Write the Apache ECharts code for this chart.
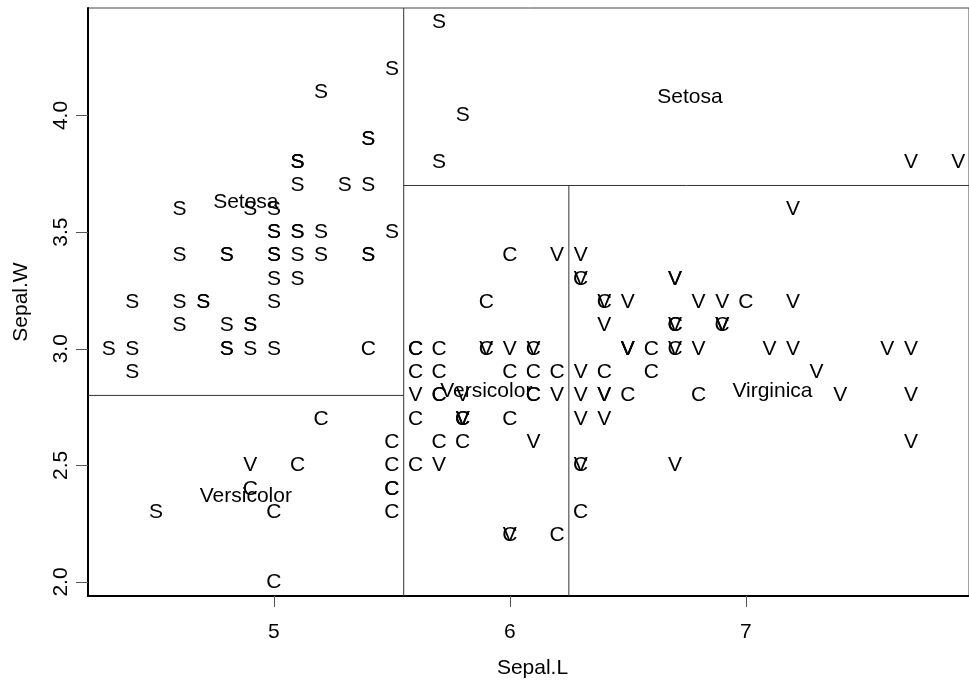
<!DOCTYPE html>
<html><head><meta charset="utf-8">
<script src="https://cdn.jsdelivr.net/npm/echarts@6/dist/echarts.min.js"></script>
<style>html,body{margin:0;padding:0;background:#fff;overflow:hidden}#c{width:969px;height:683px}</style>
</head><body><div id="c"></div>
<script>
// Sepal.Length, Sepal.Width by species (iris)
const setosa = [[5.1,3.5],[4.9,3.0],[4.7,3.2],[4.6,3.1],[5.0,3.6],[5.4,3.9],[4.6,3.4],[5.0,3.4],[4.4,2.9],[4.9,3.1],
[5.4,3.7],[4.8,3.4],[4.8,3.0],[4.3,3.0],[5.8,4.0],[5.7,4.4],[5.4,3.9],[5.1,3.5],[5.7,3.8],[5.1,3.8],
[5.4,3.4],[5.1,3.7],[4.6,3.6],[5.1,3.3],[4.8,3.4],[5.0,3.0],[5.0,3.4],[5.2,3.5],[5.2,3.4],[4.7,3.2],
[4.8,3.1],[5.4,3.4],[5.2,4.1],[5.5,4.2],[4.9,3.1],[5.0,3.2],[5.5,3.5],[4.9,3.6],[4.4,3.0],[5.1,3.4],
[5.0,3.5],[4.5,2.3],[4.4,3.2],[5.0,3.5],[5.1,3.8],[4.8,3.0],[5.1,3.8],[4.6,3.2],[5.3,3.7],[5.0,3.3]];
const versicolor = [[7.0,3.2],[6.4,3.2],[6.9,3.1],[5.5,2.3],[6.5,2.8],[5.7,2.8],[6.3,3.3],[4.9,2.4],[6.6,2.9],[5.2,2.7],
[5.0,2.0],[5.9,3.0],[6.0,2.2],[6.1,2.9],[5.6,2.9],[6.7,3.1],[5.6,3.0],[5.8,2.7],[6.2,2.2],[5.6,2.5],
[5.9,3.2],[6.1,2.8],[6.3,2.5],[6.1,2.8],[6.4,2.9],[6.6,3.0],[6.8,2.8],[6.7,3.0],[6.0,2.9],[5.7,2.6],
[5.5,2.4],[5.5,2.4],[5.8,2.7],[6.0,2.7],[5.4,3.0],[6.0,3.4],[6.7,3.1],[6.3,2.3],[5.6,3.0],[5.5,2.5],
[5.5,2.6],[6.1,3.0],[5.8,2.6],[5.0,2.3],[5.6,2.7],[5.7,3.0],[5.7,2.9],[6.2,2.9],[5.1,2.5],[5.7,2.8]];
const virginica = [[6.3,3.3],[5.8,2.7],[7.1,3.0],[6.3,2.9],[6.5,3.0],[7.6,3.0],[4.9,2.5],[7.3,2.9],[6.7,2.5],[7.2,3.6],
[6.5,3.2],[6.4,2.7],[6.8,3.0],[5.7,2.5],[5.8,2.8],[6.4,3.2],[6.5,3.0],[7.7,3.8],[7.7,2.6],[6.0,2.2],
[6.9,3.2],[5.6,2.8],[7.7,2.8],[6.3,2.7],[6.7,3.3],[7.2,3.2],[6.2,2.8],[6.1,3.0],[6.4,2.8],[7.2,3.0],
[7.4,2.8],[7.9,3.8],[6.4,2.8],[6.3,2.8],[6.1,2.6],[7.7,3.0],[6.3,3.4],[6.4,3.1],[6.0,3.0],[6.9,3.1],
[6.7,3.1],[6.9,3.1],[5.8,2.7],[6.8,3.2],[6.7,3.3],[6.7,3.0],[6.3,2.5],[6.5,3.0],[6.2,3.4],[5.9,3.0]];
const speciesLetters = ['S','C','V'];

// tree splits
const splitL1 = 5.55;      // Sepal.L split at root
const splitWLeft = 2.8;    // Sepal.W split, left branch
const splitWRight = 3.7;   // Sepal.W split, right branch
const splitL2 = 6.25;      // Sepal.L split, lower right

// plot ranges (region bounds) and visible axis window, ticks
const xMin = 4.212, xRegionMax = 7.976, xAxisMax = 7.946;
const yMin = 1.94, yMax = 4.461;
const xTicks = [5, 6, 7];
const yTicks = [2.0, 2.5, 3.0, 3.5, 4.0];

// region labels (centres of the partition rectangles)
const regionNames = ['Setosa','Versicolor','Setosa','Versicolor','Virginica'];
const regionX = [(xMin+splitL1)/2, (xMin+splitL1)/2, (splitL1+xRegionMax)/2, (splitL1+splitL2)/2, (splitL2+xRegionMax)/2];
const regionY = [(splitWLeft+yMax)/2, (yMin+splitWLeft)/2, (splitWRight+yMax)/2, (yMin+splitWRight)/2, (yMin+splitWRight)/2];

const FONT = 'Liberation Sans, Arial, sans-serif';
const FS = 21;

function letterSeries(data, letter) {
  return {
    type: 'scatter', data: data, symbolSize: 1, silent: true,
    itemStyle: { color: 'rgba(255,255,255,0)', opacity: 1 },
    label: { show: true, position: 'inside', formatter: letter, color: '#000', opacity: 1, fontSize: FS, fontFamily: FONT },
    z: 3
  };
}

const segs = [
  [[splitL1, yMin], [splitL1, yMax]],
  [[xMin, splitWLeft], [splitL1, splitWLeft]],
  [[splitL1, splitWRight], [xAxisMax, splitWRight]],
  [[splitL2, yMin], [splitL2, splitWRight]]
];

const series = [
  letterSeries(setosa, speciesLetters[0]),
  letterSeries(versicolor, speciesLetters[1]),
  letterSeries(virginica, speciesLetters[2])
];
segs.forEach(s => series.push({
  type: 'line', data: s, symbol: 'none', silent: true,
  lineStyle: { color: '#333', width: 1 }, z: 2, animation: false
}));
series.push({
  type: 'scatter', symbolSize: 1, silent: true,
  itemStyle: { color: 'rgba(255,255,255,0)', opacity: 1 },
  data: regionNames.map((n, i) => ({ value: [regionX[i], regionY[i]], name: n })),
  label: { show: true, position: 'inside', formatter: p => p.name, color: '#000', opacity: 1, fontSize: FS, fontFamily: FONT },
  z: 4
});

const chart = echarts.init(document.getElementById('c'), null, { renderer: 'canvas' });
chart.setOption({
  animation: false,
  backgroundColor: '#fff',
  textStyle: { fontFamily: FONT },
  grid: { left: 88, right: 0, top: 8, bottom: 87, show: true, borderColor: '#444', borderWidth: 1, outerBoundsMode: 'none', containLabel: false },
  xAxis: {
    type: 'value', min: xMin, max: xAxisMax,
    name: 'Sepal.L', nameLocation: 'middle', nameGap: 62,
    nameTextStyle: { fontSize: FS, color: '#000', fontFamily: FONT, padding: [0, 0, 0, 8] },
    axisLine: { show: true, lineStyle: { color: '#000', width: 2 } },
    axisTick: { show: true, length: 11, lineStyle: { color: '#555', width: 1 }, customValues: xTicks },
    axisLabel: { fontSize: FS, color: '#000', margin: 26, fontFamily: FONT, customValues: xTicks, formatter: v => String(v) },
    splitLine: { show: false }
  },
  yAxis: {
    type: 'value', min: yMin, max: yMax,
    name: 'Sepal.W', nameLocation: 'middle', nameGap: 56,
    nameTextStyle: { fontSize: FS, color: '#000', fontFamily: FONT },
    axisLine: { show: true, lineStyle: { color: '#000', width: 2 } },
    axisTick: { show: true, length: 12, lineStyle: { color: '#555', width: 1 }, customValues: yTicks },
    axisLabel: { fontSize: FS, color: '#000', margin: 16, rotate: 90, fontFamily: FONT, customValues: yTicks, formatter: v => v.toFixed(1) },
    splitLine: { show: false }
  },
  series: series
});
</script>
</body></html>
